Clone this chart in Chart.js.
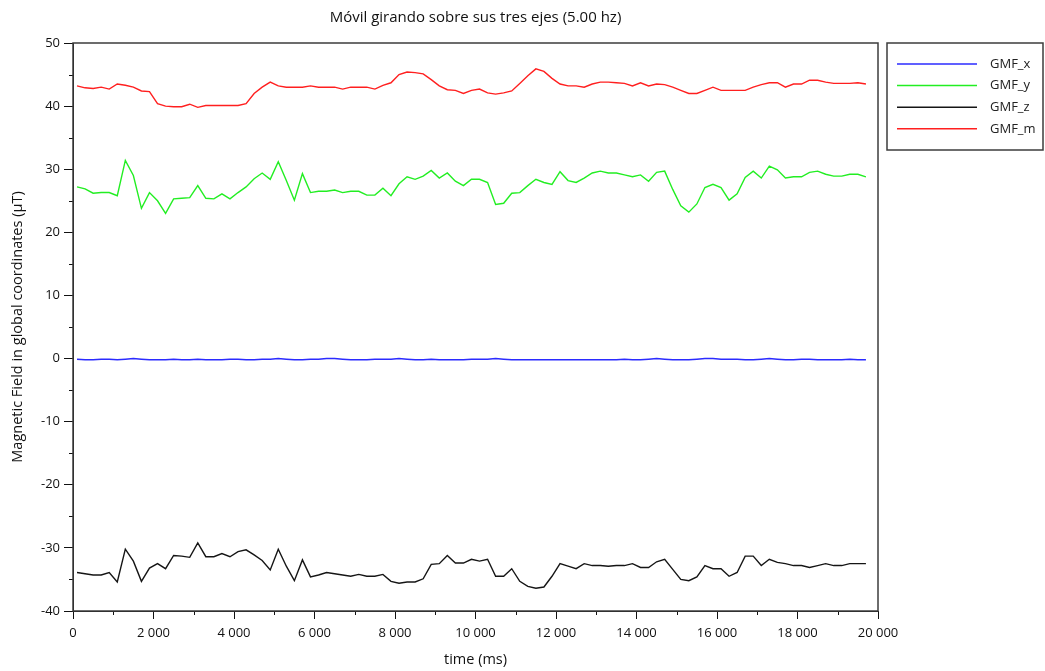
<!DOCTYPE html>
<html lang="es">
  <head>
    <meta charset="UTF-8" />
    <title>Móvil girando sobre sus tres ejes</title>
    <script src="https://cdn.jsdelivr.net/npm/chart.js@4"></script>
    <style>
      body {
        margin: 0;
        background: #fff;
      }
      .chart-container {
        width: 1045px;
        height: 671px;
      }
    </style>
  </head>
  <body>
    <div class="chart-container">
      <canvas id="gmfChart"></canvas>
    </div>

    <script>
      // tiempo de cada muestra (ms)
      const timeMs = [
        100, 300, 500, 700, 900, 1100, 1300, 1500, 1700, 1900,
        2100, 2300, 2500, 2700, 2900, 3100, 3300, 3500, 3700, 3900,
        4100, 4300, 4500, 4700, 4900, 5100, 5300, 5500, 5700, 5900,
        6100, 6300, 6500, 6700, 6900, 7100, 7300, 7500, 7700, 7900,
        8100, 8300, 8500, 8700, 8900, 9100, 9300, 9500, 9700, 9900,
        10100, 10300, 10500, 10700, 10900, 11100, 11300, 11500, 11700, 11900,
        12100, 12300, 12500, 12700, 12900, 13100, 13300, 13500, 13700, 13900,
        14100, 14300, 14500, 14700, 14900, 15100, 15300, 15500, 15700, 15900,
        16100, 16300, 16500, 16700, 16900, 17100, 17300, 17500, 17700, 17900,
        18100, 18300, 18500, 18700, 18900, 19100, 19300, 19500, 19700
      ];

      const gmfX = [
        -0.1, -0.2, -0.2, -0.1, -0.1, -0.2, -0.1, 0.0, -0.1, -0.2,
        -0.2, -0.2, -0.1, -0.2, -0.2, -0.1, -0.2, -0.2, -0.2, -0.1,
        -0.1, -0.2, -0.2, -0.1, -0.1, 0.0, -0.1, -0.2, -0.2, -0.1,
        -0.1, 0.0, 0.0, -0.1, -0.2, -0.2, -0.2, -0.1, -0.1, -0.1,
        0.0, -0.1, -0.2, -0.2, -0.1, -0.2, -0.2, -0.2, -0.2, -0.1,
        -0.1, -0.1, 0.0, -0.1, -0.2, -0.2, -0.2, -0.2, -0.2, -0.2,
        -0.2, -0.2, -0.2, -0.2, -0.2, -0.2, -0.2, -0.2, -0.1, -0.2,
        -0.2, -0.1, 0.0, -0.1, -0.2, -0.2, -0.2, -0.1, 0.0, 0.0,
        -0.1, -0.1, -0.1, -0.2, -0.2, -0.1, 0.0, -0.1, -0.2, -0.2,
        -0.1, -0.1, -0.2, -0.2, -0.2, -0.2, -0.1, -0.2, -0.2
      ];

      const gmfY = [
        27.2, 26.9, 26.2, 26.3, 26.3, 25.8, 31.4, 29.0, 23.8, 26.3,
        25.0, 23.0, 25.3, 25.4, 25.5, 27.4, 25.4, 25.3, 26.1, 25.3,
        26.3, 27.2, 28.5, 29.4, 28.4, 31.2, 28.2, 25.1, 29.3, 26.3,
        26.5, 26.5, 26.7, 26.3, 26.5, 26.5, 25.9, 25.9, 27.0, 25.8,
        27.7, 28.8, 28.4, 28.9, 29.8, 28.6, 29.4, 28.1, 27.4, 28.4,
        28.4, 27.9, 24.4, 24.6, 26.2, 26.3, 27.4, 28.4, 27.9, 27.6,
        29.6, 28.2, 27.9, 28.6, 29.4, 29.7, 29.4, 29.4, 29.1, 28.8,
        29.1, 28.1, 29.5, 29.7, 26.8, 24.2, 23.2, 24.5, 27.1, 27.6,
        27.1, 25.1, 26.1, 28.7, 29.7, 28.6, 30.5, 29.9, 28.6, 28.8,
        28.8, 29.5, 29.7, 29.2, 28.9, 28.9, 29.2, 29.2, 28.8
      ];

      const gmfZ = [
        -33.9, -34.1, -34.3, -34.3, -33.9, -35.4, -30.2, -32.1, -35.3, -33.2,
        -32.5, -33.3, -31.2, -31.3, -31.5, -29.2, -31.4, -31.4, -30.9, -31.4,
        -30.6, -30.3, -31.1, -32.0, -33.5, -30.2, -32.9, -35.2, -31.9, -34.6,
        -34.3, -33.9, -34.1, -34.3, -34.5, -34.2, -34.5, -34.5, -34.2, -35.3,
        -35.6, -35.4, -35.4, -34.9, -32.6, -32.5, -31.2, -32.4, -32.4, -31.8,
        -32.1, -31.8, -34.5, -34.5, -33.3, -35.3, -36.1, -36.4, -36.2, -34.5,
        -32.5, -32.9, -33.3, -32.5, -32.8, -32.8, -32.9, -32.8, -32.8, -32.5,
        -33.1, -33.1, -32.2, -31.8, -33.4, -35.0, -35.2, -34.6, -32.8, -33.3,
        -33.3, -34.5, -33.9, -31.3, -31.3, -32.8, -31.8, -32.3, -32.5, -32.8,
        -32.8, -33.1, -32.8, -32.5, -32.8, -32.8, -32.5, -32.5, -32.5
      ];

      const gmfM = [
        43.2, 42.9, 42.8, 43.0, 42.7, 43.5, 43.3, 43.0, 42.4, 42.3,
        40.4, 40.0, 39.9, 39.9, 40.3, 39.8, 40.1, 40.1, 40.1, 40.1,
        40.1, 40.4, 42.0, 43.0, 43.8, 43.2, 43.0, 43.0, 43.0, 43.2,
        43.0, 43.0, 43.0, 42.7, 43.0, 43.0, 43.0, 42.7, 43.3, 43.7,
        45.0, 45.4, 45.3, 45.1, 44.2, 43.2, 42.6, 42.5, 42.0, 42.5,
        42.7, 42.1, 41.9, 42.1, 42.4, 43.6, 44.8, 45.9, 45.5, 44.4,
        43.5, 43.2, 43.2, 43.0, 43.5, 43.8, 43.8, 43.7, 43.6, 43.2,
        43.7, 43.2, 43.5, 43.4, 43.0, 42.5, 42.0, 42.0, 42.5, 43.0,
        42.5, 42.5, 42.5, 42.5, 43.0, 43.4, 43.7, 43.7, 43.0, 43.5,
        43.5, 44.1, 44.1, 43.8, 43.6, 43.6, 43.6, 43.7, 43.5
      ];

      const seriesNames = ["GMF_x", "GMF_y", "GMF_z", "GMF_m"];
      const seriesColors = ["#2b2bff", "#22ee22", "#151515", "#ff1f1f"];
      const seriesValues = [gmfX, gmfY, gmfZ, gmfM];
      const chartTitle = "Móvil girando sobre sus tres ejes (5.00 hz)";

      const fontFamily = "'Open Sans', 'DejaVu Sans', sans-serif";
      const tickFont = { family: fontFamily, size: 13 };
      const axisTitleFont = { family: fontFamily, size: 14.5 };

      // título centrado sobre el área de trazado, marco, subdivisiones y leyenda
      const frameAndLegend = {
        id: "frameAndLegend",
        afterDraw(chart) {
          const { ctx, chartArea } = chart;
          const xs = chart.scales.x;
          const ys = chart.scales.y;
          ctx.save();

          ctx.fillStyle = "#111";
          ctx.font = "15px " + fontFamily;
          ctx.textAlign = "center";
          ctx.textBaseline = "middle";
          ctx.fillText(chartTitle, (chartArea.left + chartArea.right) / 2, 18);

          ctx.strokeStyle = "#111";
          ctx.lineWidth = 1;
          ctx.beginPath();
          for (let v = 1000; v < 20000; v += 2000) {
            const px = Math.round(xs.getPixelForValue(v)) + 0.5;
            ctx.moveTo(px, chartArea.bottom);
            ctx.lineTo(px, chartArea.bottom + 4);
          }
          for (let v = -35; v < 50; v += 10) {
            const py = Math.round(ys.getPixelForValue(v)) + 0.5;
            ctx.moveTo(chartArea.left - 4, py);
            ctx.lineTo(chartArea.left, py);
          }
          ctx.stroke();

          ctx.strokeStyle = "#3c3c3c";
          ctx.lineWidth = 1.5;
          ctx.strokeRect(
            chartArea.left,
            chartArea.top,
            chartArea.right - chartArea.left,
            chartArea.bottom - chartArea.top
          );

          const bx = chartArea.right + 9;
          const by = chartArea.top;
          ctx.strokeRect(bx, by, 156, 107);
          ctx.font = "13px " + fontFamily;
          ctx.textAlign = "left";
          ctx.fillStyle = "#222";
          chart.data.datasets.forEach((ds, i) => {
            const y = by + 21 + i * 21.6;
            ctx.strokeStyle = ds.borderColor;
            ctx.lineWidth = 1.5;
            ctx.beginPath();
            ctx.moveTo(bx + 10, y);
            ctx.lineTo(bx + 90, y);
            ctx.stroke();
            ctx.fillText(ds.label, bx + 103, y);
          });
          ctx.restore();
        },
      };

      const ctx = document.getElementById("gmfChart").getContext("2d");
      new Chart(ctx, {
        type: "line",
        data: {
          datasets: seriesNames.map((name, i) => ({
            label: name,
            data: timeMs.map((t, j) => ({ x: t, y: seriesValues[i][j] })),
            borderColor: seriesColors[i],
            backgroundColor: seriesColors[i],
            borderWidth: 1.4,
            pointRadius: 0,
            tension: 0,
          })),
        },
        options: {
          responsive: true,
          maintainAspectRatio: false,
          animation: false,
          layout: { padding: { right: 167, left: 0, top: 43, bottom: 0 } },
          plugins: {
            legend: { display: false },
            tooltip: { enabled: false },
            title: { display: false },
          },
          scales: {
            x: {
              type: "linear",
              min: 0,
              max: 20000,
              afterFit(scale) {
                scale.height = 60;
              },
              border: { color: "#111", width: 1 },
              grid: {
                drawOnChartArea: false,
                tickLength: 8,
                tickColor: "#111",
              },
              ticks: {
                stepSize: 2000,
                autoSkip: false,
                maxRotation: 0,
                padding: 6,
                color: "#111",
                font: tickFont,
                callback: (v) => (v === 0 ? "0" : v / 1000 + " 000"),
              },
              title: {
                display: true,
                text: "time (ms)",
                color: "#111",
                font: axisTitleFont,
                padding: { top: 0, bottom: 2 },
              },
            },
            y: {
              min: -40,
              max: 50,
              afterFit(scale) {
                scale.width = 73;
              },
              border: { color: "#111", width: 1 },
              grid: {
                drawOnChartArea: false,
                tickLength: 9,
                tickColor: "#111",
              },
              ticks: {
                stepSize: 10,
                autoSkip: false,
                padding: 4,
                color: "#111",
                font: tickFont,
              },
              title: {
                display: true,
                text: "Magnetic Field in global coordinates (µT)",
                color: "#111",
                font: axisTitleFont,
                padding: { top: 9, bottom: 0 },
              },
            },
          },
        },
        plugins: [frameAndLegend],
      });
    </script>
  </body>
</html>
